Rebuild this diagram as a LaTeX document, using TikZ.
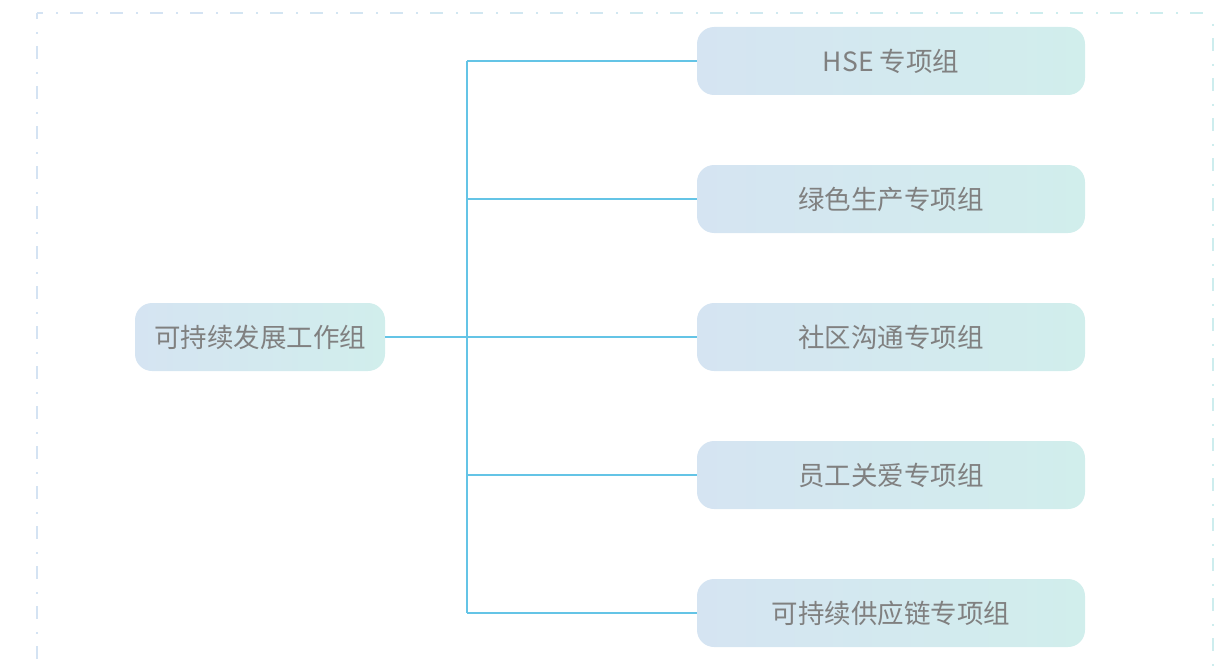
\documentclass[tikz,border=0pt]{standalone}
\usepackage{fontspec}
\setmainfont{Noto Sans CJK SC}
\usepackage{tikz}
\usetikzlibrary{positioning}
\definecolor{boxleft}{RGB}{213,228,242}
\definecolor{boxright}{RGB}{209,238,236}
\definecolor{linkcolor}{RGB}{100,196,230}
\definecolor{textgray}{RGB}{128,128,128}
\definecolor{frameblue}{RGB}{212,227,243}
\definecolor{framecyan}{RGB}{205,237,238}

\begin{document}
\begin{tikzpicture}[
    x=1pt, y=-1pt,
    % Rounded group boxes with soft gradient
    grp/.style={rectangle, rounded corners=17pt, draw=none, left color=boxleft, right color=boxright,
                minimum height=68pt, inner sep=0pt, outer sep=0pt, text=textgray, font=\fontsize{26.5}{30}\selectfont},
    rootbox/.style={grp, minimum width=250pt},
    subbox/.style={grp, minimum width=388pt},
    % Connector style
    link/.style={draw=linkcolor, line width=1.3pt},
    % Dash-dot frame
    frameline/.style={line width=1.5pt, dash pattern=on 13pt off 13pt on 2pt off 12pt}
]
    \useasboundingbox (0,0) rectangle (1230,666);

    % --- FRAME ---
    \draw[frameline, frameblue, dash phase=7pt] (37,13) -- (37,666);
    \draw[frameline, framecyan, dash phase=15pt] (1213,13) -- (1213,666);
    \foreach \k in {0,...,5} {
        \pgfmathsetmacro\mix{100-\k*20}
        \pgfmathsetmacro\ph{7+\k*196}
        \draw[frameline, frameblue!\mix!framecyan, dash phase=\ph pt] (37+\k*196,13) -- (233+\k*196,13);
    }

    % --- ROOT ---
    \node[rootbox] (root) at (260,337) {可持续发展工作组};

    % --- SUB GROUPS ---
    \node[subbox] (hse) at (891,61) {HSE 专项组};
    \node[subbox, below=70pt of hse] (green) {绿色生产专项组};
    \node[subbox, below=70pt of green] (community) {社区沟通专项组};
    \node[subbox, below=70pt of community] (staff) {员工关爱专项组};
    \node[subbox, below=70pt of staff] (supply) {可持续供应链专项组};

    % --- CONNECTORS ---
    \coordinate (trunk) at (467,0);
    \draw[link] (trunk |- hse.west) -- (trunk |- supply.west);
    \draw[link] (root.east) -- (community.west);
    \foreach \n in {hse, green, staff, supply} {
        \draw[link] (trunk |- \n.west) -- (\n.west);
    }

\end{tikzpicture}
\end{document}
